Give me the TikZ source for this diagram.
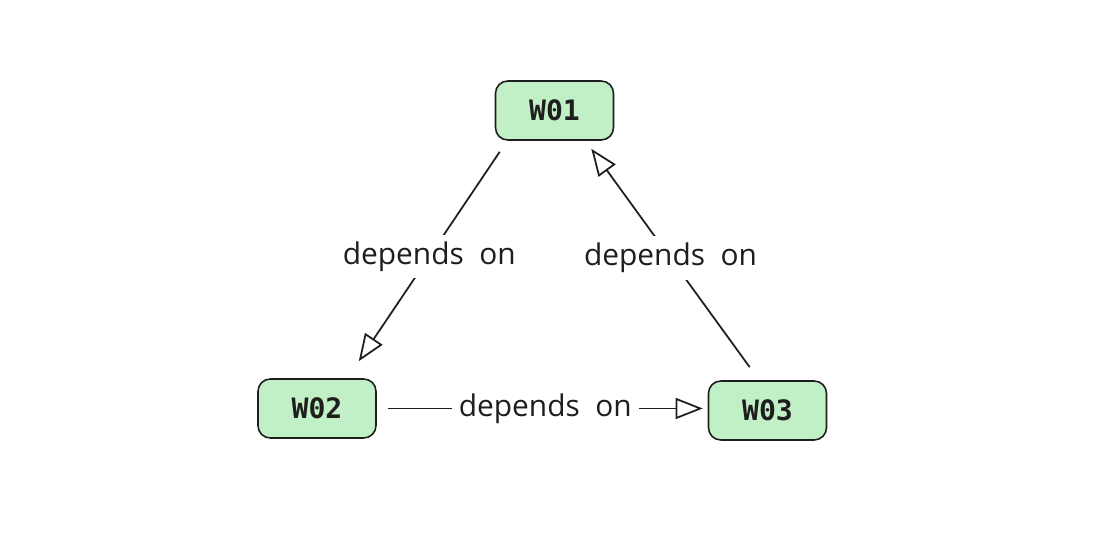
\documentclass[tikz,border=0pt]{standalone}
\usepackage{fontspec}
\setmainfont{Open Sans}
\newfontfamily\boxfont{DejaVu Sans Mono}
\usetikzlibrary{arrows.meta, positioning, calc}

\definecolor{wofill}{HTML}{C2F0C6}
\definecolor{inkgray}{HTML}{1E1E1E}

\tikzset{
    wobox/.style={draw=inkgray, fill=wofill, rounded corners=7pt, line width=0.9pt,
        minimum width=2.36cm, minimum height=1.18cm, font=\boxfont\bfseries\fontsize{16}{18}\selectfont, text=inkgray},
    dep/.style={draw=inkgray, line width=1pt, -{Triangle[open, length=5.4mm, width=4.2mm]}},
    deplabel/.style={fill=white, inner sep=4pt, text=inkgray, font=\fontsize{17}{20}\selectfont}
}

\begin{document}
\begin{tikzpicture}[x=0.02cm, y=-0.02cm]
        \useasboundingbox (0,0) rectangle (1110,536);
        % Work orders
        \node[wobox] (W01) at (554.5,110.5) {W01};
        \node[wobox] (W02) at (317,408.5) {W02};
        \node[wobox] (W03) at (767.5,410.5) {W03};
        % W01 -> W02
        \draw[dep] ([shift={(5,11)}]W01.south west) -- node[deplabel] {depends\ \ on} ([shift={(-18,-17)}]W02.north east);
        % W03 -> W01
        \draw[dep] ([shift={(42,-13)}]W03.north west) -- node[deplabel] {depends\ \ on} ([shift={(-23,8)}]W01.south east);
        % W02 -> W03
        \draw[dep] ([xshift=11*0.02cm]W02.east) -- node[deplabel] {depends\ \ on} ([xshift=-5*0.02cm]W03.west |- W02.east);
    \end{tikzpicture}
\end{document}
